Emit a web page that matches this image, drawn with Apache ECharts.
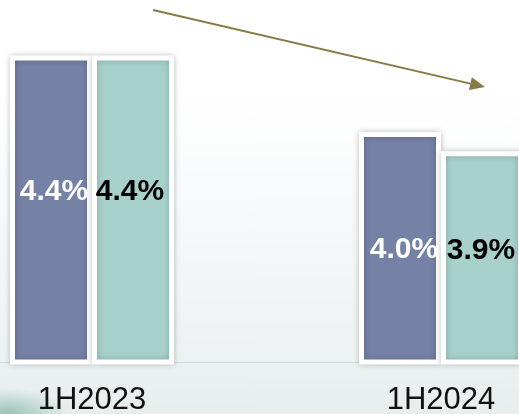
<!DOCTYPE html>
<html>
<head>
<meta charset="utf-8">
<script src="https://cdn.jsdelivr.net/npm/echarts@6/dist/echarts.min.js"></script>
<style>
  html, body { margin: 0; padding: 0; }
  #main {
    width: 519px; height: 414px;
    background:
      radial-gradient(ellipse 60px 26px at 8px 414px, rgba(90,160,140,0.55), rgba(90,160,140,0) 100%),
      linear-gradient(to bottom, #ffffff 0%, #ffffff 22%, #f7f9fa 50%, #eff3f4 80%, #e7eeec 100%);
  }
</style>
</head>
<body>
<div id="main"></div>
<script>
var categories = ['1H2023', '1H2024'];
var seriesA = [4.4, 4.0];
var seriesB = [4.4, 3.9];

var chartDom = document.getElementById('main');
var myChart = echarts.init(chartDom);

// arrow annotation (pixel coords)
var p0 = [153, 10], tip = [485, 87];
var dx = tip[0] - p0[0], dy = tip[1] - p0[1];
var len = Math.sqrt(dx * dx + dy * dy);
var ux = dx / len, uy = dy / len;
var base = [tip[0] - 15 * ux, tip[1] - 15 * uy];
var head = [
  tip,
  [base[0] - 6.5 * uy, base[1] + 6.5 * ux],
  [base[0] + 6.5 * uy, base[1] - 6.5 * ux]
];

var labelFont = {
  show: true,
  position: 'inside',
  fontFamily: 'Liberation Sans, Arial, sans-serif',
  fontWeight: 'bold',
  fontSize: 30,
  formatter: function (p) { return Number(p.value).toFixed(1) + '%'; }
};

var option = {
  animation: false,
  grid: {
    left: -82.5, right: -96.5, top: -2, bottom: 52,
    outerBoundsMode: 'none',
    containLabel: false
  },
  xAxis: {
    type: 'category',
    data: categories,
    axisLine: { lineStyle: { color: '#d6d9da', width: 1 } },
    axisTick: { alignWithLabel: true, length: 7, lineStyle: { color: '#d6d9da' } },
    axisLabel: {
      margin: 23,
      color: '#111',
      fontSize: 31,
      fontFamily: 'Liberation Sans, Arial, sans-serif'
    }
  },
  yAxis: {
    type: 'value',
    min: 2.8,
    max: 4.7,
    show: false,
    splitLine: { show: false }
  },
  series: [
    {
      type: 'bar',
      barWidth: 82,
      barGap: '0%',
      itemStyle: {
        color: '#7681a6',
        borderColor: '#ffffff',
        borderWidth: 5,
        shadowBlur: 6,
        shadowColor: 'rgba(0,0,0,0.22)'
      },
      label: Object.assign({ color: '#ffffff' }, labelFont),
      data: [
        { value: seriesA[0], label: { offset: [3, -18] } },
        { value: seriesA[1], label: { offset: [4, 1] } }
      ]
    },
    {
      type: 'bar',
      barWidth: 82,
      itemStyle: {
        color: '#a8d1cc',
        borderColor: '#ffffff',
        borderWidth: 5,
        shadowBlur: 6,
        shadowColor: 'rgba(0,0,0,0.22)'
      },
      label: Object.assign({ color: '#000000' }, labelFont),
      data: [
        { value: seriesB[0], label: { offset: [-3, -18] } },
        { value: seriesB[1], label: { offset: [-1, -7] } }
      ]
    }
  ],
  graphic: [
    {
      type: 'line',
      shape: { x1: p0[0], y1: p0[1], x2: base[0], y2: base[1] },
      style: { stroke: '#857b48', lineWidth: 2 }
    },
    {
      type: 'polygon',
      shape: { points: head },
      style: { fill: '#857b48' }
    }
  ]
};

myChart.setOption(option);
</script>
</body>
</html>
